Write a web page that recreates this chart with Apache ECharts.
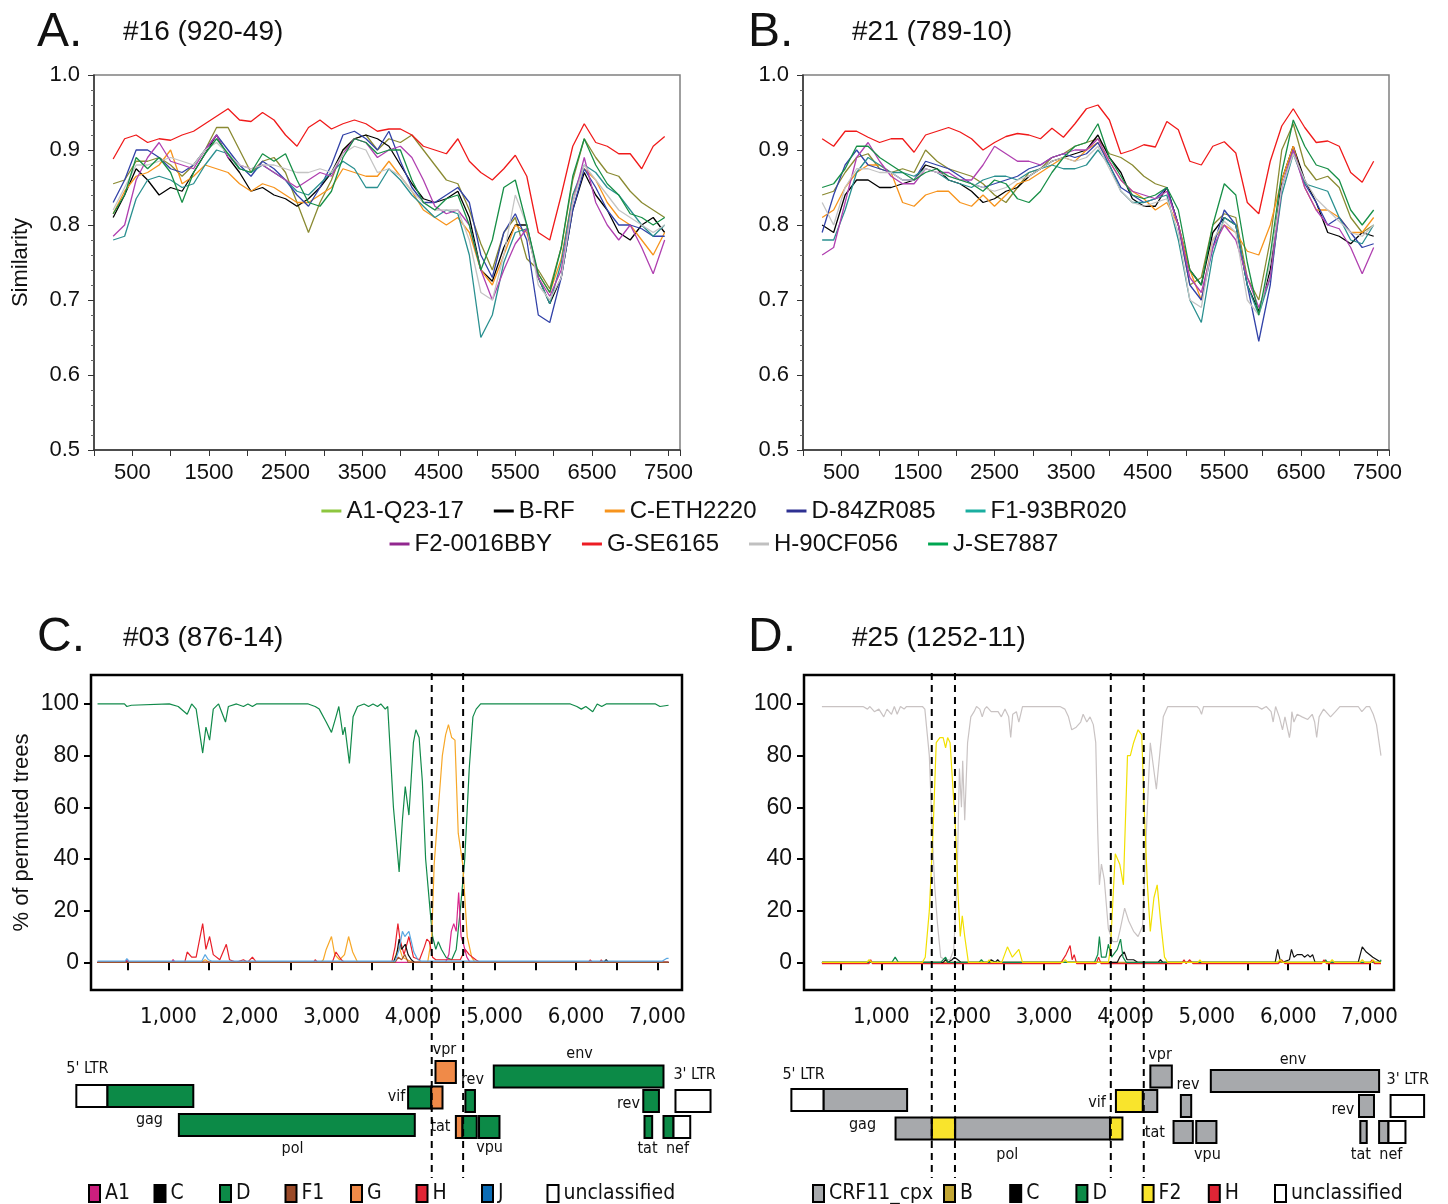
<!DOCTYPE html>
<html><head><meta charset="utf-8">
<script src="https://cdn.jsdelivr.net/npm/echarts@6/dist/echarts.min.js"></script>
<style>html,body{margin:0;padding:0;background:#fff}#c{width:1448px;height:1204px}</style>
</head><body><div id="c"></div>
<script>
// ---------- Similarity plots (A, B) ----------
const SIM_X = [250,400,550,700,850,1000,1150,1300,1450,1600,1750,1900,2050,2200,2350,2500,2650,2800,2950,3100,3250,3400,3550,3700,3850,4000,4150,4300,4450,4600,4750,4900,5050,5200,5350,5500,5650,5800,5950,6100,6250,6400,6550,6700,6850,7000,7150,7300,7450];
const SIM_NAMES = ['A1-Q23-17','B-RF','C-ETH2220','D-84ZR085','F1-93BR020','F2-0016BBY','G-SE6165','H-90CF056','J-SE7887'];
const SIM_X_LABELS = [500,1500,2500,3500,4500,5500,6500,7500];
const SIM_Y_LABELS = [0.5,0.6,0.7,0.8,0.9,1.0];

const A_A1 = [.855,.86,.885,.885,.89,.88,.865,.88,.9,.93,.93,.9,.87,.885,.89,.87,.83,.79,.83,.86,.9,.915,.92,.9,.915,.91,.92,.9,.88,.86,.855,.82,.775,.74,.79,.81,.755,.74,.715,.77,.86,.915,.89,.87,.865,.845,.83,.82,.81];
const A_B  = [.81,.84,.875,.86,.84,.85,.845,.87,.895,.92,.89,.87,.845,.85,.84,.835,.825,.835,.85,.87,.9,.915,.92,.915,.905,.88,.855,.835,.83,.835,.845,.81,.74,.725,.77,.8,.8,.73,.695,.73,.82,.87,.84,.82,.79,.78,.8,.81,.79];
const A_C  = [.815,.845,.865,.87,.88,.9,.855,.865,.88,.875,.87,.855,.845,.855,.85,.84,.83,.83,.84,.85,.875,.87,.865,.865,.885,.865,.845,.82,.81,.8,.81,.79,.74,.72,.76,.8,.79,.735,.71,.755,.84,.875,.86,.83,.81,.8,.78,.76,.79];
const A_D  = [.83,.86,.9,.9,.89,.875,.87,.88,.9,.92,.9,.88,.865,.885,.875,.86,.84,.825,.85,.88,.92,.925,.915,.9,.925,.885,.85,.83,.83,.84,.85,.83,.76,.73,.79,.815,.78,.68,.67,.73,.82,.875,.85,.82,.8,.8,.795,.785,.785];
const A_F1 = [.78,.785,.835,.86,.865,.86,.85,.855,.88,.9,.895,.875,.87,.88,.87,.86,.845,.84,.855,.87,.885,.875,.85,.85,.875,.86,.84,.825,.81,.82,.815,.76,.65,.68,.75,.79,.795,.73,.695,.75,.84,.88,.87,.85,.84,.82,.8,.785,.8];
const A_F2 = [.785,.8,.86,.89,.91,.885,.88,.875,.9,.92,.89,.88,.875,.88,.87,.86,.85,.86,.87,.865,.895,.915,.91,.89,.9,.905,.89,.86,.825,.815,.82,.8,.74,.7,.74,.775,.795,.73,.705,.74,.83,.89,.83,.8,.78,.8,.77,.735,.78];
const A_G  = [.888,.915,.92,.91,.915,.913,.92,.925,.935,.945,.955,.94,.938,.95,.94,.92,.905,.93,.94,.928,.935,.94,.935,.925,.928,.928,.92,.905,.9,.895,.915,.885,.87,.86,.875,.893,.865,.79,.78,.84,.905,.935,.91,.905,.895,.895,.875,.905,.918];
const A_H  = [.82,.85,.88,.88,.885,.89,.885,.88,.9,.91,.895,.88,.875,.88,.88,.875,.87,.87,.875,.87,.895,.905,.9,.87,.875,.865,.845,.83,.82,.82,.82,.78,.71,.7,.76,.84,.8,.72,.7,.73,.83,.88,.86,.84,.82,.81,.8,.79,.8];
const A_J  = [.815,.84,.89,.875,.89,.87,.83,.87,.895,.915,.895,.875,.87,.895,.885,.895,.86,.83,.825,.845,.89,.915,.91,.895,.9,.9,.86,.83,.82,.835,.84,.8,.74,.78,.85,.86,.8,.735,.71,.77,.865,.915,.88,.855,.84,.815,.81,.8,.81];

const B_A1 = [.84,.845,.87,.89,.895,.875,.87,.875,.87,.9,.885,.875,.87,.865,.855,.84,.83,.85,.87,.875,.89,.895,.905,.91,.915,.895,.89,.88,.865,.855,.85,.8,.72,.73,.8,.815,.81,.73,.7,.78,.9,.935,.88,.86,.865,.85,.81,.79,.8];
const B_B  = [.8,.79,.84,.86,.86,.85,.85,.855,.86,.88,.875,.86,.855,.845,.83,.835,.845,.85,.865,.875,.885,.89,.895,.9,.92,.89,.87,.835,.825,.825,.85,.8,.74,.72,.79,.81,.8,.72,.685,.74,.86,.905,.86,.83,.79,.785,.775,.79,.785];
const B_C  = [.81,.82,.85,.87,.88,.88,.87,.83,.825,.84,.845,.845,.83,.825,.84,.825,.84,.855,.86,.87,.88,.89,.885,.9,.91,.885,.86,.845,.835,.82,.83,.8,.74,.7,.78,.8,.79,.765,.76,.8,.86,.905,.85,.82,.82,.81,.79,.79,.81];
const B_D  = [.79,.84,.88,.9,.88,.875,.87,.86,.86,.885,.88,.875,.865,.855,.85,.855,.86,.865,.875,.88,.89,.895,.89,.895,.91,.88,.85,.84,.83,.835,.85,.8,.72,.7,.77,.82,.8,.72,.645,.72,.85,.9,.855,.83,.8,.81,.79,.77,.775];
const B_F1 = [.78,.78,.82,.87,.89,.88,.87,.87,.865,.875,.87,.86,.855,.85,.86,.865,.865,.86,.87,.875,.88,.875,.875,.88,.9,.88,.845,.83,.83,.835,.84,.78,.7,.67,.76,.81,.8,.72,.68,.73,.84,.895,.855,.85,.845,.81,.78,.775,.8];
const B_F2 = [.76,.77,.83,.89,.91,.885,.865,.855,.855,.875,.87,.87,.86,.86,.88,.905,.895,.885,.885,.88,.89,.895,.9,.9,.915,.885,.86,.845,.84,.835,.845,.8,.73,.71,.77,.8,.78,.73,.69,.73,.85,.9,.85,.82,.8,.795,.77,.735,.77];
const B_G  = [.915,.905,.925,.925,.917,.91,.915,.915,.897,.92,.925,.93,.924,.915,.9,.91,.918,.922,.92,.915,.929,.917,.935,.955,.96,.94,.895,.9,.907,.904,.938,.927,.885,.88,.905,.911,.896,.83,.815,.885,.932,.955,.93,.91,.912,.905,.87,.857,.885];
const B_H  = [.83,.8,.85,.875,.875,.87,.87,.86,.86,.875,.87,.865,.86,.855,.85,.845,.85,.86,.865,.875,.885,.89,.885,.89,.905,.875,.845,.83,.825,.83,.835,.79,.7,.69,.78,.805,.79,.7,.68,.75,.85,.895,.86,.835,.82,.805,.79,.785,.8];
const B_J  = [.85,.855,.875,.905,.905,.89,.88,.87,.86,.87,.875,.865,.86,.855,.845,.86,.855,.835,.83,.845,.87,.89,.905,.91,.935,.89,.865,.84,.835,.84,.85,.82,.74,.72,.8,.855,.84,.75,.68,.76,.87,.94,.905,.88,.875,.86,.82,.8,.82];

// ---------- Bootscan plots (C, D): [position, % of permuted trees] ----------
const BOOT_X_LABELS = [1000,2000,3000,4000,5000,6000,7000];
const BOOT_X_TICKS = [500,1000,1500,2000,2500,3000,3500,4000,4500,5000,5500,6000,6500,7000];
const BOOT_Y_LABELS = [0,20,40,60,80,100];

const C_D  = [[130,100],[460,100],[490,99],[545,99.5],[1010,100],[1120,99],[1230,96],[1285,100],[1340,98],[1420,81],[1460,91],[1505,86],[1550,98],[1615,100],[1700,93],[1735,99],[1835,100],[1920,99],[1975,100],[2030,99],[2080,100],[2715,100],[2800,99],[2850,98],[2935,93],[3000,89],[3055,95],[3090,99],[3140,88],[3165,91],[3220,77],[3265,95],[3320,99],[3400,100],[3455,99],[3510,100],[3565,99],[3605,100],[3660,98],[3690,99],[3760,60],[3830,35],[3870,55],[3905,68],[3950,57],[4005,85],[4035,90],[4075,87],[4115,70],[4155,40],[4210,20],[4240,10],[4280,5],[4310,8],[4350,5],[4405,2],[4475,1],[4530,5],[4580,20],[4635,40],[4690,75],[4735,95],[4775,98],[4830,100],[5930,100],[6010,99],[6065,98],[6120,99],[6205,97],[6260,100],[6315,99],[6370,100],[6975,100],[7030,99],[7135,99.5]];
const C_G  = [[130,0],[1400,0],[1450,1],[1500,0],[2870,0],[2900,1],[2935,5],[3000,10],[3040,3],[3100,1],[3160,3],[3210,10],[3260,4],[3320,0],[3760,0],[3790,3],[3830,6],[3870,2],[3930,1],[4000,0],[4180,0],[4230,10],[4260,38],[4300,55],[4360,80],[4400,88],[4435,92],[4475,87],[4515,86],[4555,50],[4610,38],[4665,10],[4720,2],[4760,0],[7135,0]];
const C_H  = [[130,0],[470,0],[490,1],[510,0],[1040,0],[1055,1],[1070,0],[1200,0],[1230,4],[1285,2],[1340,2],[1420,15],[1460,5],[1505,10],[1550,3],[1630,1],[1710,7],[1750,1],[1830,0],[1920,1],[1970,0],[2030,2],[2080,0],[2780,0],[2800,1],[2830,0],[3010,0],[3055,4],[3120,1],[3160,0],[3740,0],[3780,6],[3815,15],[3840,9],[3890,3],[3950,10],[4005,2],[4080,1],[4140,6],[4170,9],[4200,8],[4240,2],[4280,1],[4580,1],[4640,5],[4690,3],[4770,1],[4820,0],[6150,0],[6175,1],[6200,0],[6290,0],[6310,1],[6330,0],[7135,0]];
const C_A1 = [[130,0],[480,0],[500,1],[520,0],[1040,0],[1060,1],[1080,0],[4400,0],[4440,3],[4470,12],[4500,15],[4530,12],[4560,27],[4590,10],[4620,7],[4660,2],[4700,0],[7135,0]];
const C_C  = [[130,0],[3760,0],[3800,3],[3830,9],[3860,5],[3905,7],[3940,3],[3980,1],[4020,0],[6340,0],[6370,1],[6400,0],[7135,0]];
const C_F1 = [[130,0],[3780,0],[3820,2],[3860,1],[3900,3],[3940,0],[7135,0]];
const C_J  = [[130,0.5],[470,0.5],[490,1.5],[510,0.5],[1410,0.5],[1450,3],[1490,1],[1530,0.5],[3780,0.5],[3830,5],[3870,12],[3900,10],[3925,11],[3950,12],[3980,8],[4010,4],[4060,1],[4100,0.5],[7060,0.5],[7110,1.5],[7135,1.5]];

const D_CRF = [[270,99],[775,99],[830,98],[860,99],[915,97],[970,98],[1030,95],[1070,98],[1125,96],[1160,99],[1195,96],[1235,99],[1280,98],[1310,99],[1505,99],[1535,98],[1590,80],[1620,55],[1655,30],[1690,15],[1730,2],[1790,1],[1845,1],[1890,5],[1930,30],[1960,75],[1985,60],[2000,78],[2025,55],[2060,85],[2100,95],[2140,97],[2170,99],[2210,98],[2240,95],[2270,98],[2295,99],[2350,97],[2435,97],[2475,95],[2520,98],[2565,95],[2590,87],[2615,96],[2660,97],[2690,93],[2735,99],[3195,99],[3255,98],[3300,95],[3340,90],[3395,91],[3450,93],[3480,96],[3525,93],[3565,95],[3605,92],[3635,85],[3660,50],[3680,30],[3705,38],[3740,32],[3790,13],[3845,8],[3900,8],[3930,12],[3990,21],[4040,16],[4100,12],[4155,10],[4210,14],[4270,60],[4305,85],[4380,67],[4465,95],[4520,99],[4880,99],[4910,98],[4935,96],[4960,99],[5620,99],[5675,98],[5730,99],[5790,97],[5815,93],[5845,99],[5890,95],[5930,90],[5960,95],[6015,87],[6030,90],[6045,97],[6070,93],[6110,96],[6170,95],[6240,94],[6295,96],[6325,93],[6350,87],[6380,95],[6435,98],[6520,95],[6580,97],[6635,99],[6860,99],[6905,97],[6960,99],[7000,99],[7045,96],[7085,92],[7140,80]];
const D_F2 = [[270,0],[820,0],[850,1],[880,0],[1505,0],[1540,2],[1590,20],[1635,50],[1675,85],[1720,87],[1760,87],[1790,83],[1815,87],[1845,85],[1875,70],[1915,50],[1945,25],[1970,10],[1995,18],[2025,10],[2070,0],[2300,0],[2325,1],[2350,0],[2480,0],[2550,6],[2610,2],[2690,5],[2735,0],[3230,0],[3260,1],[3290,0],[3790,0],[3815,5],[3875,42],[3930,38],[3975,30],[4025,80],[4060,80],[4100,85],[4155,90],[4200,88],[4230,60],[4270,30],[4305,12],[4350,25],[4390,30],[4435,15],[4480,2],[4520,0],[4890,0],[4915,1],[4940,0],[5870,0],[5900,1],[5930,0],[6510,0],[6540,1],[6570,0],[6880,0],[6910,1],[6940,0],[7020,0],[7045,1],[7070,0],[7140,0]];
const D_H  = [[270,-0.5],[850,-0.5],[870,1],[890,-0.5],[3200,-0.5],[3270,3],[3320,6.5],[3345,1],[3370,3],[3400,-0.5],[3640,-0.5],[3670,2],[3700,-0.5],[4690,-0.5],[4720,1],[4745,-0.5],[4790,1],[4830,-0.5],[5880,-0.5],[5920,1],[5960,-0.5],[6410,-0.5],[6440,1],[6470,-0.5],[7000,-0.5],[7030,1],[7060,-0.5],[7140,-0.5]];
const D_D  = [[270,0],[1130,0],[1170,2],[1210,0],[1730,0],[1790,2],[1820,0],[2200,0],[2230,1],[2260,0],[3620,0],[3660,3],[3680,10],[3705,2],[3760,2],[3790,7],[3830,2],[3900,5],[3940,9],[3970,2],[4010,0],[5880,0],[5910,1],[5940,0],[6440,0],[6460,1],[6480,0],[7130,0],[7140,1]];
const D_C  = [[270,0],[1760,0],[1790,1],[1820,0],[1870,1],[1900,2],[1940,1],[1980,0],[2320,0],[2350,1],[2400,0],[2430,1],[2460,0],[3900,0],[3930,2],[3985,4],[4020,1],[4100,1],[4150,0],[4400,0],[4430,1],[4460,0],[5840,0],[5870,5],[5900,1],[5930,0],[6015,1],[6040,5],[6070,2],[6110,3],[6170,3],[6200,2],[6240,3],[6270,2],[6300,3],[6330,0],[6860,0],[6910,6],[6960,4],[7040,2],[7090,1],[7140,0]];
const D_B  = [[270,0],[7140,0]];

// breakpoints (dashed lines)
const BP_C = [4230, 4615];
const BP_D = [1620, 1905, 3820, 4225];

// genome maps: [gene, subtype, start, end, row]
const GENES_C = [
 ["5' LTR",'unclassified',-130,252,1.86],['gag','D',252,1305,1.86],['pol','D',1128,4022,3.02],
 ['vif','D',3940,4224,1.92],['vif','G',4224,4362,1.92],['vpr','G',4276,4526,0.9],
 ['rev','D',4643,4760,2.06],['tat','G',4526,4607,3.1],['tat','D',4607,4782,3.1],
 ['vpu','D',4810,5061,3.1],['env','D',4991,7073,1.08],['rev','D',6825,7017,2.06],
 ['tat','D',6840,6934,3.1],['nef','D',7073,7196,3.1],['nef','unclassified',7196,7401,3.1],
 ["3' LTR",'unclassified',7220,7650,2.06]
];
const GENES_D = [
 ["5' LTR",'unclassified',-105,292,2.02],['gag','CRF11_cpx',292,1317,2.02],
 ['pol','CRF11_cpx',1175,1621,3.16],['pol','F2',1621,1908,3.16],['pol','CRF11_cpx',1908,3810,3.16],['pol','F2',3810,3963,3.16],
 ['vif','F2',3883,4214,2.06],['vif','CRF11_cpx',4214,4391,2.06],['vpr','CRF11_cpx',4306,4570,1.08],
 ['rev','CRF11_cpx',4681,4808,2.26],['tat','CRF11_cpx',4591,4828,3.3],['vpu','CRF11_cpx',4870,5118,3.3],
 ['env','CRF11_cpx',5049,7117,1.26],['rev','CRF11_cpx',6870,7054,2.26],['tat','CRF11_cpx',6886,6965,3.3],
 ['nef','CRF11_cpx',7117,7232,3.3],['nef','unclassified',7232,7441,3.3],["3' LTR",'unclassified',7258,7670,2.26]
];
// gene labels: [text, position, row]
const LABELS_C = [["5' LTR",6,0.78],['gag',767,2.82],['pol',2522,3.98],['vif',3797,1.9],['vpr',4386,0.02],['rev',4730,1.22],['tat',4337,3.1],['vpu',4939,3.94],['env',6043,0.18],['rev',6644,2.18],['tat',6877,3.98],['nef',7245,3.98],["3' LTR",7454,1.02]];
const LABELS_D = [["5' LTR",45,1.02],['gag',769,3.02],['pol',2548,4.22],['vif',3652,2.14],['vpr',4426,0.22],['rev',4768,1.42],['tat',4362,3.34],['vpu',5007,4.22],['env',6058,0.42],['rev',6672,2.42],['tat',6893,4.22],['nef',7261,4.22],["3' LTR",7469,1.22]];

const LEG_C = ['A1','C','D','F1','G','H','J','unclassified'];
const LEG_D1 = ['CRF11_cpx'];
const LEG_D2 = ['B','C','D','F2','H','unclassified'];

// ---------- styles ----------
const SIM_LINE_COLORS = {'A1-Q23-17':'#8a8a32','B-RF':'#000000','C-ETH2220':'#f7941d','D-84ZR085':'#3242a8','F1-93BR020':'#2a9090','F2-0016BBY':'#b040b0','G-SE6165':'#f01a1a','H-90CF056':'#c4c4c4','J-SE7887':'#178f47'};
const SIM_LEG_COLORS = {'A1-Q23-17':'#8dc63f','B-RF':'#000000','C-ETH2220':'#f7941d','D-84ZR085':'#2e3192','F1-93BR020':'#1aaea0','F2-0016BBY':'#92278f','G-SE6165':'#ed1c24','H-90CF056':'#c0c0c0','J-SE7887':'#00a651'};
const BOOT_LINE_COLORS = {A1:'#d8288c',C:'#111111',D:'#118a4a',F1:'#a0522d',G:'#f7a829',H:'#e8202a',J:'#5aa8e2',CRF11_cpx:'#c9c3c3',B:'#b8a030',F2:'#f2e000',unclassified:'#ffffff'};
const BOX_COLORS = {A1:'#cc1f7e',C:'#000000',D:'#0c8a47',F1:'#9a4a28',G:'#f08a48',H:'#e02535',J:'#0b6cb5',CRF11_cpx:'#a7a9ac',B:'#c2a633',F2:'#f9e42c',unclassified:'#ffffff'};
const FONT = "'Liberation Sans', Arial, sans-serif";
const NARROW = "'Liberation Sans Narrow', 'DejaVu Sans Condensed', 'Liberation Sans', sans-serif";

const chart = echarts.init(document.getElementById('c'), null, {renderer:'canvas'});

function simSeries(name, ys, idx){
  return {type:'line', name, xAxisIndex:idx, yAxisIndex:idx, data: SIM_X.map((x,i)=>[x, ys[i]]),
    showSymbol:false, symbol:'none', lineStyle:{width:1.3, color:SIM_LINE_COLORS[name]}, itemStyle:{color:SIM_LINE_COLORS[name]}, animation:false, z: name==='G-SE6165'?3:2};
}
function bootSeries(name, data, idx){
  return {type:'line', name, xAxisIndex:idx, yAxisIndex:idx, data, showSymbol:false, symbol:'none',
    lineStyle:{width:1.2, color:BOOT_LINE_COLORS[name]}, itemStyle:{color:BOOT_LINE_COLORS[name]}, animation:false};
}
function geneSeries(genes, idx){
  return {type:'custom', xAxisIndex:idx, yAxisIndex:idx, clip:false, animation:false, silent:true, z:5,
    data: genes.map(g=>[g[2], g[3], g[4]]),
    renderItem(params, api){
      const g = genes[params.dataIndex];
      const p0 = api.coord([api.value(0), api.value(2)]);
      const p1 = api.coord([api.value(1), api.value(2)]);
      const h = Math.abs(api.size([0,1])[1]) * 0.88;
      return {type:'rect', shape:{x:p0[0], y:p0[1]-h/2, width:p1[0]-p0[0], height:h},
        style:{fill:BOX_COLORS[g[1]], stroke:'#000', lineWidth:2}};
    }};
}
function labelSeries(labels, idx){
  return {type:'custom', xAxisIndex:idx, yAxisIndex:idx, clip:false, animation:false, silent:true, z:6,
    data: labels.map(l=>[l[1], l[2]]),
    renderItem(params, api){
      const p = api.coord([api.value(0), api.value(1)]);
      return {type:'text', x:p[0], y:p[1], style:{text:labels[params.dataIndex][0], font:'16px '+NARROW, fill:'#111', align:'center', verticalAlign:'middle'}};
    }};
}
function dashSeries(bps, idx){
  return {type:'custom', xAxisIndex:idx, yAxisIndex:idx, clip:false, animation:false, silent:true, z:20,
    data: bps.map(b=>[b, 0]),
    renderItem(params, api){
      const t = api.coord([api.value(0), 1]); const b = api.coord([api.value(0), 0]);
      return {type:'line', shape:{x1:t[0], y1:t[1], x2:b[0], y2:b[1]}, style:{stroke:'#000', lineWidth:2, lineDash:[7,5]}};
    }};
}

const simX = (gi)=>({gridIndex:gi, type:'value', min:0, max:7650, interval:500,
  axisLine:{show:true, lineStyle:{color:'#333', width:1.5}}, axisTick:{show:true, length:6, lineStyle:{color:'#333'}},
  splitLine:{show:false},
  axisLabel:{margin:12, fontSize:22, fontFamily:FONT, color:'#111', formatter:v=>SIM_X_LABELS.includes(v)?String(v):''}});
const simY = (gi)=>({gridIndex:gi, type:'value', min:0.5, max:1.0, interval:0.1,
  axisLine:{show:true, lineStyle:{color:'#333', width:1.5}}, axisTick:{show:true, length:6, lineStyle:{color:'#333'}},
  minorTick:{show:true, splitNumber:5, length:3, lineStyle:{color:'#666'}}, splitLine:{show:false},
  axisLabel:{margin:14, fontSize:22, fontFamily:FONT, color:'#111', formatter:v=>SIM_Y_LABELS.some(s=>Math.abs(s-v)<1e-6)?v.toFixed(1):''},
  name: gi===0?'Similarity':'', nameLocation:'middle', nameGap:62, nameTextStyle:{fontSize:22, fontFamily:FONT, color:'#111'}});
const bootX = (gi)=>({gridIndex:gi, type:'value', min:50, max:7300,
  axisLine:{show:false}, splitLine:{show:false},
  axisTick:{show:true, customValues:BOOT_X_TICKS, length:8, lineStyle:{color:'#000', width:2}},
  axisLabel:{customValues:BOOT_X_LABELS, margin:16, fontSize:22, fontFamily:NARROW, color:'#111', formatter:v=>v.toLocaleString('en-US')}});
const bootY = (gi)=>({gridIndex:gi, type:'value', min:-10.7, max:111.2,
  axisLine:{show:false}, splitLine:{show:false},
  axisTick:{show:true, customValues:BOOT_Y_LABELS, length:7, lineStyle:{color:'#000', width:2}},
  axisLabel:{customValues:BOOT_Y_LABELS, margin:12, fontSize:23, fontFamily:FONT, color:'#111'},
  name: gi===2?'% of permuted trees':'', nameLocation:'middle', nameGap:58, nameTextStyle:{fontSize:22, fontFamily:FONT, color:'#111'}});
const hidX = (gi)=>({gridIndex:gi, type:'value', min:50, max:7300, show:false});
const hidYmap = (gi)=>({gridIndex:gi, type:'value', min:0.5, max:3.5, inverse:true, show:false});
const hidYdash = (gi)=>({gridIndex:gi, type:'value', min:0, max:1, show:false});

const simA = [A_A1,A_B,A_C,A_D,A_F1,A_F2,A_G,A_H,A_J];
const simB = [B_A1,B_B,B_C,B_D,B_F1,B_F2,B_G,B_H,B_J];

const series = [];
SIM_NAMES.forEach((n,i)=>series.push(simSeries(n, simA[i], 0)));
SIM_NAMES.forEach((n,i)=>series.push(simSeries(n, simB[i], 1)));
series.push(bootSeries('D', C_D, 2), bootSeries('G', C_G, 2), bootSeries('H', C_H, 2), bootSeries('A1', C_A1, 2),
            bootSeries('C', C_C, 2), bootSeries('F1', C_F1, 2), bootSeries('J', C_J, 2), bootSeries('unclassified', [], 2));
series.push(bootSeries('CRF11_cpx', D_CRF, 3), bootSeries('B', D_B, 3), bootSeries('C', D_C, 3), bootSeries('D', D_D, 3),
            bootSeries('H', D_H, 3), bootSeries('F2', D_F2, 3), bootSeries('unclassified', [], 3));
series.push(geneSeries(GENES_C, 4), labelSeries(LABELS_C, 4), geneSeries(GENES_D, 5), labelSeries(LABELS_D, 5));
series.push(dashSeries(BP_C, 6), dashSeries(BP_D, 7));

const simLegend = (names, top)=>({top, left:'center', itemGap:30, itemWidth:20, itemHeight:3, selectedMode:false,
  textStyle:{fontSize:24, fontFamily:FONT, color:'#111'},
  data: names.map(n=>({name:n, icon:'rect', itemStyle:{color:SIM_LEG_COLORS[n], borderWidth:0}}))});
// one legend component per entry so the entries keep the reference's fixed pitch
const boxLegends = (names, left0, pitch)=>names.map((n,i)=>({left: left0 + i*pitch, top:1183, itemWidth:11, itemHeight:17, selectedMode:false,
  textStyle:{fontSize:21, fontFamily:NARROW, color:'#111'}, padding:0,
  data:[{name:n, icon:'rect', itemStyle:{color:BOX_COLORS[n], borderColor:'#000', borderWidth:2}}]}));

const txt = (text, left, top, size)=>({type:'text', left, top, style:{text, font:size+'px '+FONT, fill:'#111'}});

chart.setOption({
  animation:false,
  backgroundColor:'#fff',
  graphic:[
    txt('A.',37,9,48), txt('#16 (920-49)',123,18,28),
    txt('B.',748,9,48), txt('#21 (789-10)',852,18,28),
    txt('C.',37,614,48), txt('#03 (876-14)',123,624,28),
    txt('D.',748,614,48), txt('#25 (1252-11)',852,624,28)
  ],
  grid:[
    {left:94, top:75, width:586, height:375, show:true, borderColor:'#808080', borderWidth:1.5},
    {left:803, top:75, width:586, height:375, show:true, borderColor:'#808080', borderWidth:1.5},
    {left:91, top:675, width:591, height:315, show:true, borderColor:'#000', borderWidth:2.5},
    {left:804, top:675, width:590, height:315, show:true, borderColor:'#000', borderWidth:2.5},
    {left:91, top:1062, width:591, height:75},
    {left:804, top:1062, width:590, height:75},
    {left:91, top:673, width:591, height:505},
    {left:804, top:673, width:590, height:505}
  ],
  xAxis:[simX(0), simX(1), bootX(2), bootX(3), hidX(4), hidX(5), hidX(6), hidX(7)],
  yAxis:[simY(0), simY(1), bootY(2), bootY(3), hidYmap(4), hidYmap(5), hidYdash(6), hidYdash(7)],
  legend:[
    simLegend(SIM_NAMES.slice(0,5), 494),
    simLegend(SIM_NAMES.slice(5), 527),
    ...boxLegends(LEG_C, 88, 65.5),
    ...boxLegends(LEG_D1, 812, 0),
    ...boxLegends(LEG_D2, 943, 66.2)
  ],
  series
});
</script></body></html>
